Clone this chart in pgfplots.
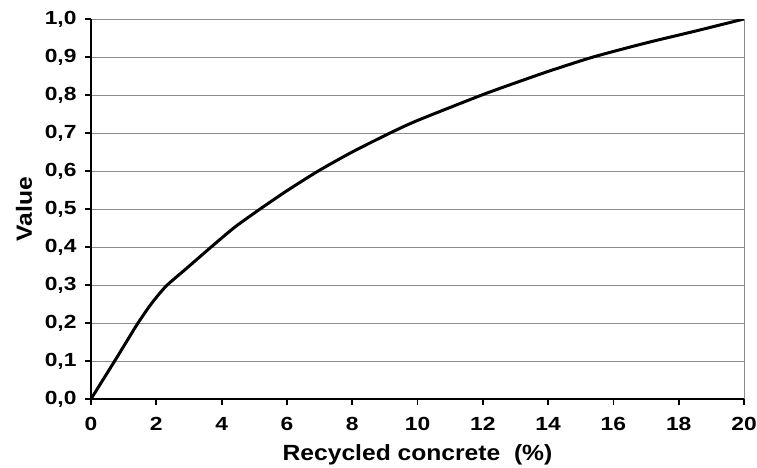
\documentclass[border=0pt]{standalone}
\usepackage{fontspec}
\setmainfont{Liberation Sans}
\newfontfamily\tickfont{Liberation Sans}[FakeStretch=1.2]
\newfontfamily\labfont{Liberation Sans}[FakeStretch=1.12]
\usepackage{pgfplots}
\pgfplotsset{compat=1.18}
\begin{document}
\begin{tikzpicture}
% frame of the reference image: axis box at x 91..744, y 19..399 px
\useasboundingbox (-91pt,-68pt) rectangle (666pt,399pt);
\begin{axis}[
  at={(0,0)}, anchor=south west,
  scale only axis,
  width=653pt, height=380pt,
  xmin=0, xmax=20, ymin=0, ymax=1,
  xtick={0,2,...,20},
  ytick={0,0.1,...,1.0},
  axis x line*=bottom, axis y line*=left,
  axis line style={-, black, line width=2.6pt},
  tick align=outside,
  major tick length=6pt,
  tick style={black, line width=1.8pt},
  ymajorgrids=true,
  major grid style={gray!90, line width=1pt},
  extra x ticks={20},
  extra x tick labels={},
  extra x tick style={xmajorgrids=true, ymajorgrids=false, major tick length=0pt},
  /pgf/number format/assume math mode=true,
  ticklabel style={font=\tickfont\bfseries\fontsize{19}{21}\selectfont},
  xticklabel style={yshift=-9pt},
  yticklabel style={xshift=-5pt,
    /pgf/number format/fixed, /pgf/number format/fixed zerofill,
    /pgf/number format/precision=1, /pgf/number format/use comma},
  label style={font=\labfont\bfseries\fontsize{22}{24}\selectfont},
  xlabel={Recycled concrete\ \ (\%)},
  ylabel={Value},
  xlabel style={at={(axis description cs:0.5,0)}, anchor=base, yshift=-61pt},
  ylabel style={at={(axis description cs:0,0.5)}, anchor=center, yshift=67pt},
]
\addplot[black, line width=3pt, smooth, tension=0.4] coordinates {
  (0,0) (0.725,0.1) (1.11,0.154) (1.44,0.2) (1.85,0.251) (2.3,0.297)
  (2.97,0.347) (3.68,0.4) (4.4,0.452) (5.18,0.5) (6,0.548) (6.96,0.6)
  (8,0.65) (9.16,0.7) (10,0.733) (11.97,0.8) (13,0.832) (14,0.862)
  (15.38,0.9) (17,0.937) (18.5,0.968) (20,1.0)
};
\end{axis}
\end{tikzpicture}
\end{document}
